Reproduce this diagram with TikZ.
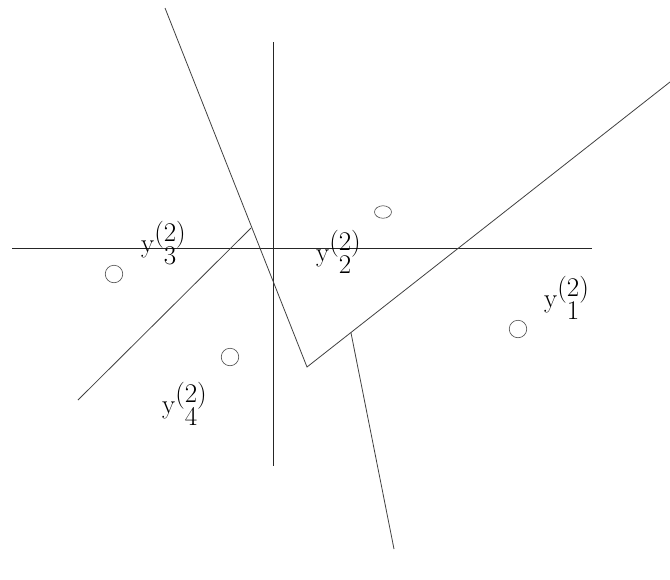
\documentclass[tikz,border=0pt]{standalone}
\usetikzlibrary{calc,shapes.geometric}
\newcommand{\ylab}[1]{y\rlap{\raisebox{-0.45em}{\hphantom{(}#1}}\raisebox{0.4em}{(2)}}
\begin{document}
\begin{tikzpicture}[x=1pt,y=-1pt,
  ln/.style={line width=0.8pt,draw=black!75},
  axis/.style={line width=0.8pt,draw=black!85},
  pt/.style={circle,draw=black!70,line width=0.6pt,minimum size=17.5pt,inner sep=0pt},
  lab/.style={anchor=base west,inner sep=0pt,font=\fontsize{27}{27}\selectfont}]
\useasboundingbox (0,0) rectangle (670,579);
% axes
\coordinate (hl) at (12,248);
\coordinate (hr) at (592,248);
\coordinate (vt) at (273,42);
\coordinate (vb) at (273,466);
\draw[axis] (hl) -- (hr);
\draw[axis] (vt) -- (vb);
% polyline
\coordinate (a) at (165,8);
\coordinate (b) at (307,367);
\coordinate (c) at (670,82);
\draw[ln] (a) -- (b) -- (c);
% left segment
\coordinate (d) at (78,400);
\coordinate (e) at (251,228);
\draw[ln] (d) -- (e);
% lower segment
\coordinate (f) at ($(b)!0.121!(c)$);
\coordinate (g) at (394,549);
\draw[ln] (f) -- (g);
% points
\node[pt] (p3) at (114,274) {};
\node[pt,ellipse,minimum width=17pt,minimum height=12.5pt] (p2) at (383,212) {};
\node[pt] (p4) at (230,357) {};
\node[pt] (p1) at (518,329) {};
% labels
\node[lab] (l3) at (141,252) {\ylab{3}};
\node[lab] (l2) at (316,261) {\ylab{2}};
\node[lab] (l1) at (544,307) {\ylab{1}};
\node[lab] (l4) at (162,413) {\ylab{4}};
\end{tikzpicture}
\end{document}
